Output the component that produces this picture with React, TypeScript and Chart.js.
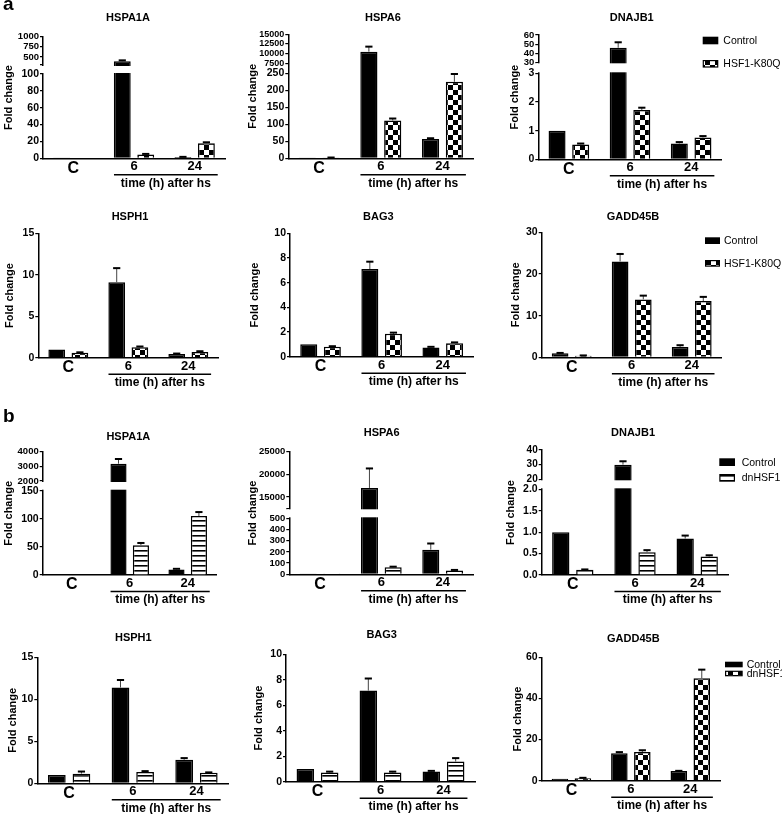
import React, { useEffect, useRef } from 'react';
import { Chart, registerables, LinearScale } from 'chart.js';

Chart.register(...registerables);
Chart.defaults.font.family = "'Liberation Sans', Arial, Helvetica, sans-serif";
Chart.defaults.color = '#000';

// ---------------- DATA ----------------
const categories = ['C', '6', '24'];
const seriesA = ['Control', 'HSF1-K80Q'];
const seriesB = ['Control', 'dnHSF1'];

// panel a
const aHSPA1A_ctrl = [1, 390, 1.5];
const aHSPA1A_ctrlErr = [0, 25, 0.2];
const aHSPA1A_trt = [0.8, 4.6, 18];
const aHSPA1A_trtErr = [0, 0.6, 1.0];
const aHSPA1A_ticks = [0, 20, 40, 60, 80, 100, 300, 500, 750, 1000];
const aHSPA1A_unlabeled = [300];
const aHSPA1A_segs = [[0, 100], [300, 1000]];

const aHSPA6_ctrl = [1, 10500, 57];
const aHSPA6_ctrlErr = [0, 1300, 2];
const aHSPA6_trt = [2, 111, 225];
const aHSPA6_trtErr = [0.3, 6, 23];
const aHSPA6_ticks = [0, 50, 100, 150, 200, 250, 7500, 10000, 12500, 15000];
const aHSPA6_segs = [[0, 250], [5400, 15000]];

const aDNAJB1_ctrl = [1.0, 46, 0.55];
const aDNAJB1_ctrlErr = [0, 6, 0.05];
const aDNAJB1_trt = [0.52, 1.72, 0.76];
const aDNAJB1_trtErr = [0.03, 0.08, 0.05];
const aDNAJB1_ticks = [0, 1, 2, 3, 30, 40, 50, 60];
const aDNAJB1_segs = [[0, 3], [30, 60]];

const aHSPH1_ctrl = [1.0, 9.1, 0.45];
const aHSPH1_ctrlErr = [0, 1.7, 0.05];
const aHSPH1_trt = [0.6, 1.25, 0.7];
const aHSPH1_trtErr = [0.05, 0.1, 0.08];
const aHSPH1_ticks = [0, 5, 10, 15];

const aBAG3_ctrl = [1.0, 7.1, 0.75];
const aBAG3_ctrlErr = [0, 0.6, 0.05];
const aBAG3_trt = [0.8, 1.85, 1.1];
const aBAG3_trtErr = [0.05, 0.1, 0.06];
const aBAG3_ticks = [0, 2, 4, 6, 8, 10];

const aGADD45B_ctrl = [1.0, 23, 2.5];
const aGADD45B_ctrlErr = [0.05, 1.8, 0.4];
const aGADD45B_trt = [0.4, 13.9, 13.5];
const aGADD45B_trtErr = [0.05, 0.9, 1.0];
const aGADD45B_ticks = [0, 10, 20, 30];

// panel b
const bHSPA1A_ctrl = [1, 3180, 10];
const bHSPA1A_ctrlErr = [0, 320, 1];
const bHSPA1A_trt = [1, 53, 105];
const bHSPA1A_trtErr = [0, 4, 7];
const bHSPA1A_ticks = [0, 50, 100, 150, 2000, 3000, 4000];
const bHSPA1A_segs = [[0, 150], [2000, 4000]];

const bHSPA6_ctrl = [1, 17000, 220];
const bHSPA6_ctrlErr = [0, 4300, 55];
const bHSPA6_trt = [1, 62, 35];
const bHSPA6_trtErr = [0, 6, 4];
const bHSPA6_ticks = [0, 100, 200, 300, 400, 500, 12500, 15000, 20000, 25000];
const bHSPA6_unlabeled = [12500];
const bHSPA6_segs = [[0, 500], [12500, 25000]];

const bDNAJB1_ctrl = [1.0, 30, 0.85];
const bDNAJB1_ctrlErr = [0, 2.3, 0.07];
const bDNAJB1_trt = [0.12, 0.53, 0.43];
const bDNAJB1_trtErr = [0.01, 0.05, 0.03];
const bDNAJB1_ticks = [0, 0.5, 1.0, 1.5, 2.0, 20, 30, 40];
const bDNAJB1_segs = [[0, 2], [20, 40]];

const bHSPH1_ctrl = [1.0, 11.4, 2.8];
const bHSPH1_ctrlErr = [0, 0.9, 0.2];
const bHSPH1_trt = [1.15, 1.35, 1.25];
const bHSPH1_trtErr = [0.25, 0.1, 0.05];
const bHSPH1_ticks = [0, 5, 10, 15];

const bBAG3_ctrl = [1.0, 7.15, 0.8];
const bBAG3_ctrlErr = [0, 0.95, 0.05];
const bBAG3_trt = [0.72, 0.72, 1.58];
const bBAG3_trtErr = [0.07, 0.07, 0.27];
const bBAG3_ticks = [0, 2, 4, 6, 8, 10];

const bGADD45B_ctrl = [1.0, 13.3, 4.7];
const bGADD45B_ctrlErr = [0, 0.6, 0.1];
const bGADD45B_trt = [1.2, 14, 49.8];
const bGADD45B_trtErr = [0.2, 0.8, 4.2];
const bGADD45B_ticks = [0, 20, 40, 60];

// ---------------- PANELS ----------------
type PanelDef = {
  title: string; names: string[]; ctrl: number[]; ctrlErr: number[]; trt: number[]; trtErr: number[];
  ticks: number[]; unlabeled?: number[]; segs?: number[][]; pattern: 'checker' | 'stripes'; dec?: boolean; upFont?: number;
};

const panelDefs: PanelDef[] = [
  { title: 'HSPA1A', names: seriesA, ctrl: aHSPA1A_ctrl, ctrlErr: aHSPA1A_ctrlErr, trt: aHSPA1A_trt, trtErr: aHSPA1A_trtErr, ticks: aHSPA1A_ticks, unlabeled: aHSPA1A_unlabeled, segs: aHSPA1A_segs, pattern: 'checker', upFont: 9.5 },
  { title: 'HSPA6', names: seriesA, ctrl: aHSPA6_ctrl, ctrlErr: aHSPA6_ctrlErr, trt: aHSPA6_trt, trtErr: aHSPA6_trtErr, ticks: aHSPA6_ticks, segs: aHSPA6_segs, pattern: 'checker', upFont: 9 },
  { title: 'DNAJB1', names: seriesA, ctrl: aDNAJB1_ctrl, ctrlErr: aDNAJB1_ctrlErr, trt: aDNAJB1_trt, trtErr: aDNAJB1_trtErr, ticks: aDNAJB1_ticks, segs: aDNAJB1_segs, pattern: 'checker', upFont: 9.5 },
  { title: 'HSPH1', names: seriesA, ctrl: aHSPH1_ctrl, ctrlErr: aHSPH1_ctrlErr, trt: aHSPH1_trt, trtErr: aHSPH1_trtErr, ticks: aHSPH1_ticks, pattern: 'checker' },
  { title: 'BAG3', names: seriesA, ctrl: aBAG3_ctrl, ctrlErr: aBAG3_ctrlErr, trt: aBAG3_trt, trtErr: aBAG3_trtErr, ticks: aBAG3_ticks, pattern: 'checker' },
  { title: 'GADD45B', names: seriesA, ctrl: aGADD45B_ctrl, ctrlErr: aGADD45B_ctrlErr, trt: aGADD45B_trt, trtErr: aGADD45B_trtErr, ticks: aGADD45B_ticks, pattern: 'checker' },
  { title: 'HSPA1A', names: seriesB, ctrl: bHSPA1A_ctrl, ctrlErr: bHSPA1A_ctrlErr, trt: bHSPA1A_trt, trtErr: bHSPA1A_trtErr, ticks: bHSPA1A_ticks, segs: bHSPA1A_segs, pattern: 'stripes', upFont: 9.5 },
  { title: 'HSPA6', names: seriesB, ctrl: bHSPA6_ctrl, ctrlErr: bHSPA6_ctrlErr, trt: bHSPA6_trt, trtErr: bHSPA6_trtErr, ticks: bHSPA6_ticks, unlabeled: bHSPA6_unlabeled, segs: bHSPA6_segs, pattern: 'stripes', upFont: 9.5 },
  { title: 'DNAJB1', names: seriesB, ctrl: bDNAJB1_ctrl, ctrlErr: bDNAJB1_ctrlErr, trt: bDNAJB1_trt, trtErr: bDNAJB1_trtErr, ticks: bDNAJB1_ticks, segs: bDNAJB1_segs, pattern: 'stripes', dec: true, upFont: 10 },
  { title: 'HSPH1', names: seriesB, ctrl: bHSPH1_ctrl, ctrlErr: bHSPH1_ctrlErr, trt: bHSPH1_trt, trtErr: bHSPH1_trtErr, ticks: bHSPH1_ticks, pattern: 'stripes' },
  { title: 'BAG3', names: seriesB, ctrl: bBAG3_ctrl, ctrlErr: bBAG3_ctrlErr, trt: bBAG3_trt, trtErr: bBAG3_trtErr, ticks: bBAG3_ticks, pattern: 'stripes' },
  { title: 'GADD45B', names: seriesB, ctrl: bGADD45B_ctrl, ctrlErr: bGADD45B_ctrlErr, trt: bGADD45B_trt, trtErr: bGADD45B_trtErr, ticks: bGADD45B_ticks, pattern: 'checker' },
];

// ---------------- LAYOUT (page pixels) ----------------
type Lay = { row: number; fold: number; L: number; T: number; R: number; B: number; tx: number; ty: number; brk?: number[]; legend?: number[]; lowFont?: number };
const rowTop = [0, 200, 400, 610];
const rowBot = [200, 400, 610, 814];
const layouts: Lay[] = [
  { row: 0, fold: 9, L: 43, T: 36.7, R: 225, B: 158.3, tx: 128, ty: 18.3, brk: [74, 65] },
  { row: 0, fold: 253, L: 288.3, T: 34.3, R: 473.3, B: 158.3, tx: 383, ty: 18.3, brk: [73.3, 71.3] },
  { row: 0, fold: 515, L: 538.3, T: 35, R: 721.7, B: 159.3, tx: 631.7, ty: 18.3, brk: [73.3, 62.3], legend: [702.7, 36.7, 23.3, 15.6, 7.6, 5] },
  { row: 1, fold: 10, L: 38.3, T: 233.3, R: 218.3, B: 357.7, tx: 130, ty: 217.3 },
  { row: 1, fold: 255, L: 290, T: 233.3, R: 473.3, B: 356.7, tx: 378.3, ty: 217 },
  { row: 1, fold: 516, L: 541.7, T: 232.3, R: 721.7, B: 357.3, tx: 633, ty: 217, legend: [705, 237.3, 22.7, 15, 6.7, 4] },
  { row: 2, fold: 9, L: 42.7, T: 451.7, R: 216.7, B: 575, tx: 128.3, ty: 437.3, brk: [490.7, 481] },
  { row: 2, fold: 252.5, L: 289.3, T: 451.7, R: 473.3, B: 574.3, tx: 381.7, ty: 433.3, brk: [518.3, 508.3], lowFont: 9.5 },
  { row: 2, fold: 511, L: 541.7, T: 450, R: 728.3, B: 575, tx: 633, ty: 432.7, brk: [489.3, 479.3], legend: [719.3, 458.3, 15.7, 15.7, 7.7, 6.7] },
  { row: 3, fold: 13, L: 37.3, T: 657.3, R: 228.3, B: 783.3, tx: 133.3, ty: 638.3 },
  { row: 3, fold: 259, L: 286, T: 654.3, R: 475, B: 781.7, tx: 381.7, ty: 635 },
  { row: 3, fold: 518, L: 541.7, T: 657.3, R: 720, B: 780.7, tx: 633.3, ty: 639.3, legend: [725, 661.7, 9, 17.7, 5.6, 4] },
];

// ---------------- BROKEN AXIS SCALE ----------------
type Seg = { lo: number; hi: number; fLo: number; fHi: number };
const brokenMap = new WeakMap<HTMLCanvasElement, Seg[]>();

class BrokenScale extends LinearScale {
  static id = 'broken';
  static defaults = LinearScale.defaults;
  getPixelForValue(value: any) {
    const segs = brokenMap.get((this as any).chart.canvas);
    if (!segs || value === null || value === undefined) return super.getPixelForValue(value);
    let dec = 0;
    for (let i = 0; i < segs.length; i++) {
      const s = segs[i];
      if (value <= s.hi || i === segs.length - 1) {
        if (value >= s.lo || i === 0) {
          dec = s.fLo + ((value - s.lo) / (s.hi - s.lo)) * (s.fHi - s.fLo);
        } else {
          const p = segs[i - 1];
          dec = p.fHi + ((value - p.hi) / (s.lo - p.hi)) * (s.fLo - p.fHi);
        }
        break;
      }
    }
    return (this as any).getPixelForDecimal(dec);
  }
}
Chart.register(BrokenScale as any);

function makePattern(kind: 'checker' | 'stripes'): CanvasPattern | string {
  const c = document.createElement('canvas');
  const ctx = c.getContext('2d');
  if (!ctx) return '#888';
  if (kind === 'checker') {
    c.width = 10; c.height = 10;
    ctx.fillStyle = '#fff'; ctx.fillRect(0, 0, 10, 10);
    ctx.fillStyle = '#000'; ctx.fillRect(0, 0, 5, 5); ctx.fillRect(5, 5, 5, 5);
  } else {
    c.width = 5; c.height = 5;
    ctx.fillStyle = '#fff'; ctx.fillRect(0, 0, 5, 5);
    ctx.fillStyle = '#000'; ctx.fillRect(0, 0, 5, 1.6);
  }
  return ctx.createPattern(c, 'repeat') as CanvasPattern;
}

function Panel({ def, lay }: { def: PanelDef; lay: Lay }) {
  const ref = useRef<HTMLCanvasElement>(null);
  const cl = Math.floor(lay.fold - 9.3);
  const ct = rowTop[lay.row];
  const cr = lay.legend ? 782 : Math.round(lay.R + 28);
  const cb = rowBot[lay.row];
  const w = cr - cl;
  const h = cb - ct;

  useEffect(() => {
    const canvas = ref.current;
    if (!canvas) return;
    const pat = makePattern(def.pattern);
    const yMax = def.ticks[def.ticks.length - 1];
    const upLo = def.segs ? def.segs[1][0] : Infinity;
    const lowFont = lay.lowFont || 10.5;
    const unlabeled = def.unlabeled || [];
    if (def.segs && lay.brk) {
      const span = lay.B - lay.T;
      brokenMap.set(canvas, [
        { lo: def.segs[0][0], hi: def.segs[0][1], fLo: 0, fHi: (lay.B - lay.brk[0]) / span },
        { lo: def.segs[1][0], hi: def.segs[1][1], fLo: (lay.B - lay.brk[1]) / span, fHi: 1 },
      ]);
    }
    const errs = [def.ctrlErr, def.trtErr];

    const decor = {
      id: 'decor',
      afterDatasetsDraw(chart: any) {
        const ctx = chart.ctx;
        const ys = chart.scales.y;
        // error bars
        chart.data.datasets.forEach((ds: any, di: number) => {
          const meta = chart.getDatasetMeta(di);
          meta.data.forEach((el: any, j: number) => {
            const e = errs[di][j];
            if (!e) return;
            const yTop = ys.getPixelForValue(ds.data[j] + e);
            ctx.save();
            ctx.strokeStyle = '#444';
            ctx.lineWidth = 1;
            ctx.beginPath(); ctx.moveTo(el.x, el.y); ctx.lineTo(el.x, yTop); ctx.stroke();
            ctx.strokeStyle = '#000';
            ctx.lineWidth = 2;
            ctx.beginPath(); ctx.moveTo(el.x - 3.6, yTop); ctx.lineTo(el.x + 3.6, yTop); ctx.stroke();
            ctx.restore();
          });
        });
        // axis break
        if (lay.brk) {
          const y0 = lay.brk[1] - ct + 1.0;
          const y1 = lay.brk[0] - ct - 1.0;
          if (y1 > y0) {
            ctx.save();
            ctx.fillStyle = '#fff';
            ctx.fillRect(chart.chartArea.left - 2, y0, chart.chartArea.right - chart.chartArea.left + 4, y1 - y0);
            ctx.restore();
          }
        }
      },
      afterDraw(chart: any) {
        const ctx = chart.ctx;
        const xs = chart.scales.x;
        const yb = chart.chartArea.bottom;
        ctx.save();
        // title
        ctx.fillStyle = '#000';
        ctx.font = "bold 11px 'Liberation Sans', Arial, sans-serif";
        ctx.textAlign = 'center';
        ctx.textBaseline = 'middle';
        ctx.fillText(def.title, lay.tx - cl, lay.ty - ct);
        // time label
        const cw = (xs.right - xs.left) / categories.length;
        const x0 = xs.getPixelForValue(1) - 0.33 * cw;
        const x1 = xs.getPixelForValue(2) + 0.38 * cw;
        ctx.strokeStyle = '#000';
        ctx.lineWidth = 1.5;
        ctx.beginPath(); ctx.moveTo(x0, yb + 16.5); ctx.lineTo(x1, yb + 16.5); ctx.stroke();
        ctx.font = "bold 12px 'Liberation Sans', Arial, sans-serif";
        ctx.fillText('time (h) after hs', (x0 + x1) / 2, yb + 25);
        // legend
        if (lay.legend) {
          const [lx, ly, gap, bw, bh, tgap] = lay.legend;
          ctx.font = "10.5px 'Liberation Sans', Arial, sans-serif";
          ctx.textAlign = 'left';
          def.names.forEach((name, i) => {
            const bx = lx - cl;
            const by = ly - ct + i * gap;
            ctx.fillStyle = '#000';
            ctx.fillRect(bx, by, bw, bh);
            if (i === 1) {
              ctx.fillStyle = pat as any;
              ctx.fillRect(bx + 1.2, by + 1.2, bw - 2.4, bh - 2.4);
            }
            ctx.fillStyle = '#000';
            ctx.fillText(name, bx + bw + tgap, by + bh / 2 + 0.5);
          });
        }
        ctx.restore();
      },
    };

    const chart = new Chart(canvas, {
      type: 'bar',
      data: {
        labels: categories,
        datasets: [
          { label: def.names[0], data: def.ctrl, backgroundColor: '#000', borderColor: '#000', borderWidth: 1.5 },
          { label: def.names[1], data: def.trt, backgroundColor: pat as any, borderColor: '#000', borderWidth: 1.5 },
        ],
      },
      options: {
        animation: false,
        responsive: false,
        events: [],
        layout: { padding: { top: lay.T - ct, right: cr - lay.R, left: 0, bottom: 0 } },
        datasets: { bar: { barPercentage: 0.72, categoryPercentage: 0.773 } },
        plugins: { legend: { display: false }, tooltip: { enabled: false }, title: { display: false } },
        scales: {
          x: {
            type: 'category',
            offset: true,
            grid: { display: false, drawTicks: false, tickLength: 0 },
            border: { display: true, color: '#000', width: 1.5 },
            ticks: {
              color: '#000',
              padding: 2,
              autoSkip: false,
              maxRotation: 0,
              font: (c: any) => ({ size: c.index === 0 ? 16 : 13, weight: 'bold', lineHeight: 1 }),
            },
            afterFit: (s: any) => { s.height = cb - lay.B; },
          },
          y: {
            type: (def.segs ? 'broken' : 'linear') as any,
            min: 0,
            max: yMax,
            afterBuildTicks: (s: any) => { s.ticks = def.ticks.map((v) => ({ value: v })); },
            grid: { display: true, drawOnChartArea: false, drawTicks: true, tickLength: 3, color: '#000', lineWidth: 1.2 },
            border: { display: true, color: '#000', width: 1.5 },
            ticks: {
              color: '#000',
              padding: 1,
              autoSkip: false,
              font: (c: any) => ({ size: c.tick && c.tick.value >= upLo ? (def.upFont || 9.5) : lowFont, weight: 'bold' }),
              callback: (v: any) => {
                const n = Number(v);
                if (unlabeled.includes(n)) return '';
                if (def.dec && n < 10) return n.toFixed(1);
                return String(n);
              },
            },
            title: { display: true, text: 'Fold change', color: '#000', font: { size: 11, weight: 'bold' }, padding: { top: 3, bottom: 0 } },
            afterFit: (s: any) => { s.width = lay.L - cl; },
          },
        },
      },
      plugins: [decor],
    } as any);
    return () => chart.destroy();
  }, []);

  return <canvas ref={ref} width={w} height={h} style={{ position: 'absolute', left: cl, top: ct, width: w, height: h }} />;
}

export default function App() {
  const panelLetter: React.CSSProperties = {
    position: 'absolute', left: 3, fontFamily: "'Liberation Sans', Arial, sans-serif",
    fontWeight: 'bold', fontSize: 19, lineHeight: '19px', color: '#000',
  };
  return (
    <div style={{ position: 'fixed', left: 0, top: 0, width: 782, height: 814, background: '#fff', overflow: 'hidden' }}>
      {panelDefs.map((d, i) => <Panel key={i} def={d} lay={layouts[i]} />)}
      <div style={{ ...panelLetter, top: -6 }}>a</div>
      <div style={{ ...panelLetter, top: 405.5 }}>b</div>
    </div>
  );
}
